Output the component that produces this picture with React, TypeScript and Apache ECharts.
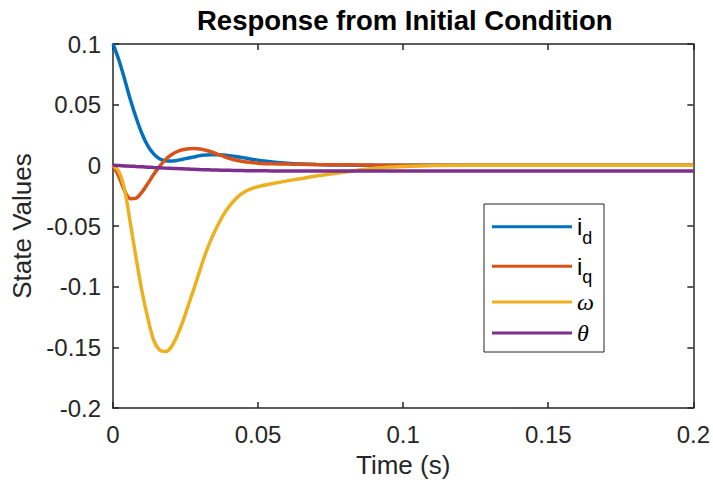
import React, { useEffect, useRef } from 'react';
import * as echarts from 'echarts';

const timeS = [0, 0.002, 0.004, 0.006, 0.008, 0.01, 0.012, 0.014, 0.016, 0.018, 0.02, 0.022, 0.024, 0.026, 0.028, 0.03, 0.032, 0.034, 0.036, 0.038, 0.04, 0.043, 0.046, 0.05, 0.055, 0.06, 0.065, 0.07, 0.08, 0.09, 0.1, 0.12, 0.15, 0.2];

const idValues = [0.1, 0.087, 0.071, 0.054, 0.039, 0.026, 0.016, 0.0095, 0.0055, 0.0038, 0.0035, 0.004, 0.005, 0.006, 0.007, 0.008, 0.0085, 0.0088, 0.0088, 0.0085, 0.008, 0.007, 0.0058, 0.0042, 0.0028, 0.0017, 0.001, 0.0006, 0.0002, 0.0001, 0, 0, 0, 0];

const iqValues = [0, -0.009, -0.021, -0.0275, -0.027, -0.022, -0.015, -0.0075, -0.001, 0.0045, 0.0085, 0.0112, 0.0128, 0.0136, 0.0138, 0.0134, 0.0124, 0.011, 0.0093, 0.0075, 0.0058, 0.004, 0.0027, 0.0018, 0.0013, 0.001, 0.0008, 0.0006, 0.0004, 0.0002, 0.0001, 0, 0, 0];

const omegaValues = [0, -0.005, -0.02, -0.048, -0.077, -0.104, -0.126, -0.144, -0.152, -0.1535, -0.15, -0.141, -0.129, -0.115, -0.101, -0.086, -0.072, -0.06, -0.05, -0.041, -0.034, -0.026, -0.021, -0.0175, -0.015, -0.0128, -0.0108, -0.0088, -0.0055, -0.0025, -0.001, 0, 0, 0];

const thetaValues = [0, -0.0002, -0.0005, -0.0007, -0.001, -0.0012, -0.0015, -0.0018, -0.002, -0.0023, -0.0025, -0.0027, -0.0029, -0.0031, -0.0033, -0.0035, -0.0036, -0.0038, -0.0039, -0.004, -0.0041, -0.0043, -0.0044, -0.0045, -0.0046, -0.0046, -0.0047, -0.0047, -0.0047, -0.0047, -0.0047, -0.0047, -0.0047, -0.0047];

const seriesNames = ['i_d', 'i_q', 'omega', 'theta'];
const seriesColors = ['#0072BD', '#D95319', '#EDB120', '#7E2F8E'];
const seriesValues = [idValues, iqValues, omegaValues, thetaValues];
const legendLabels: Record<string, string> = {
  i_d: '{i|i}{s|d}',
  i_q: '{i|i}{s|q}',
  omega: '{g|ω}',
  theta: '{g|θ}',
};
const legendTops = [206.8, 246.2, 290, 321];

const FONT = 'Liberation Sans, Arial, Helvetica, sans-serif';
const INK = '#262626';

export default function App() {
  const ref = useRef<HTMLDivElement>(null);
  useEffect(() => {
    const chart = echarts.init(ref.current!, null, { renderer: 'svg' });
    const axisCommon = {
      type: 'value' as const,
      axisLine: { show: true, onZero: false, lineStyle: { color: INK, width: 1.5 } },
      axisTick: { show: true, inside: true, length: 6, lineStyle: { color: INK, width: 1.5 } },
      splitLine: { show: false },
    };
    const xCommon = { ...axisCommon, min: 0, max: 0.2, interval: 0.05 };
    const yCommon = { ...axisCommon, min: -0.2, max: 0.1, interval: 0.05 };
    const option: any = {
      animation: false,
      backgroundColor: '#ffffff',
      title: {
        text: 'Response from Initial Condition',
        left: 197,
        top: 6,
        padding: 0,
        textStyle: { fontFamily: FONT, fontWeight: 'bold', fontSize: 27.5, color: '#000' },
      },
      grid: { left: 113, right: 15, top: 44, bottom: 74, containLabel: false },
      xAxis: [
        {
          ...xCommon,
          position: 'bottom',
          name: 'Time (s)',
          nameLocation: 'middle',
          nameGap: 44,
          nameTextStyle: { fontFamily: FONT, fontSize: 26, color: INK },
          axisLabel: { show: true, fontFamily: FONT, fontSize: 24, color: INK, margin: 14, showMinLabel: true, showMaxLabel: true },
        },
        { ...xCommon, position: 'top', axisLabel: { show: false } },
      ],
      yAxis: [
        {
          ...yCommon,
          position: 'left',
          name: 'State Values',
          nameLocation: 'middle',
          nameGap: 78,
          nameTextStyle: { fontFamily: FONT, fontSize: 26, color: INK },
          axisLabel: { show: true, fontFamily: FONT, fontSize: 24, color: INK, margin: 12, showMinLabel: true, showMaxLabel: true },
        },
        { ...yCommon, position: 'right', axisLabel: { show: false } },
      ],
      graphic: [
        {
          type: 'rect',
          shape: { x: 484, y: 204, width: 120, height: 148 },
          style: { fill: '#ffffff', stroke: INK, lineWidth: 1 },
          z: 3,
        },
      ],
      legend: seriesNames.map((n, i) => ({
        data: [n],
        left: 492,
        top: legendTops[i],
        padding: 0,
        icon: 'rect',
        itemWidth: 80,
        itemHeight: 3,
        selectedMode: false,
        z: 5,
        formatter: (name: string) => legendLabels[name],
        textStyle: {
          fontFamily: FONT,
          fontSize: 24,
          color: '#000',
          rich: {
            i: { fontFamily: FONT, fontSize: 24, lineHeight: 24, color: '#000' },
            s: { fontFamily: FONT, fontSize: 18, lineHeight: 18, padding: [22, 0, 0, 0], color: '#000' },
            g: { fontFamily: 'Liberation Serif, Times New Roman, serif', fontStyle: 'italic', fontSize: 24, lineHeight: 24, color: '#000' },
          },
        },
      })),
      series: seriesNames.map((n, i) => ({
        name: n,
        type: 'line',
        xAxisIndex: 0,
        yAxisIndex: 0,
        data: timeS.map((t, k) => [t, seriesValues[i][k]]),
        showSymbol: false,
        symbol: 'none',
        smooth: 0.3,
        color: seriesColors[i],
        lineStyle: { width: 3.5, color: seriesColors[i] },
      })),
    };
    chart.setOption(option);
    return () => chart.dispose();
  }, []);
  return <div ref={ref} style={{ position: 'absolute', left: 0, top: 0, width: 713, height: 483 }} />;
}
